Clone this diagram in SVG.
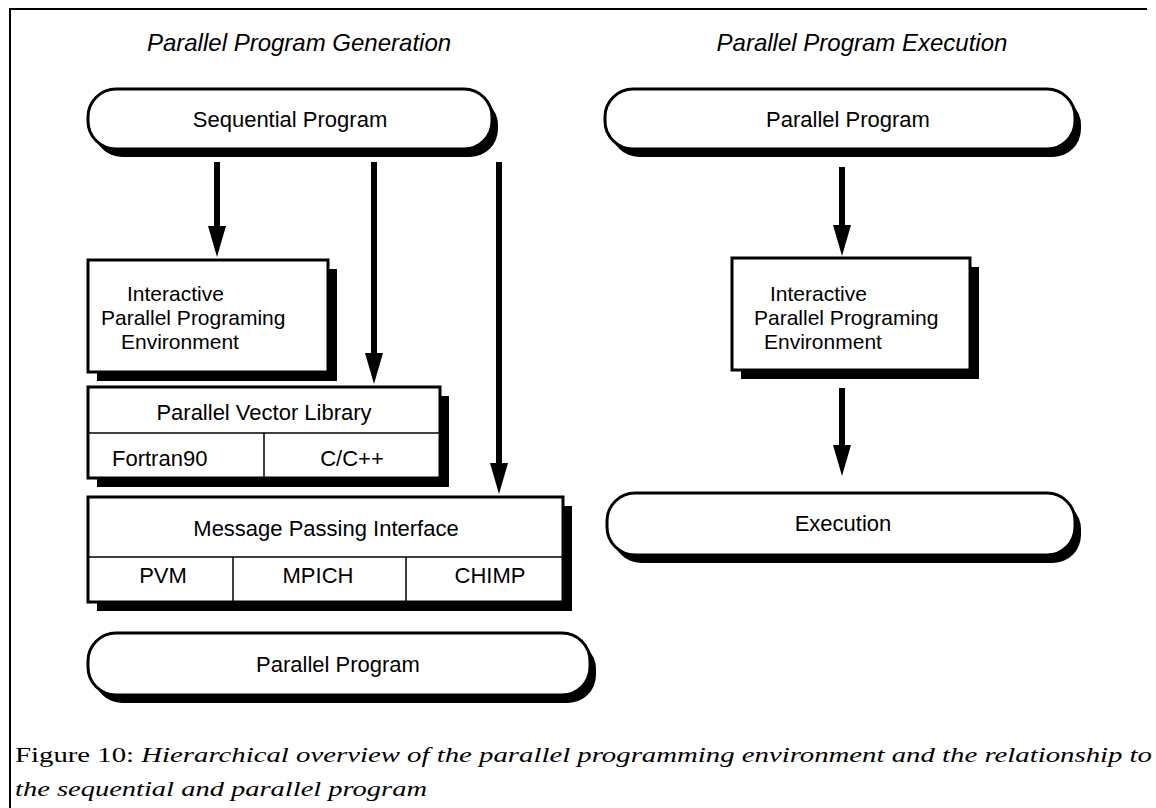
<svg xmlns="http://www.w3.org/2000/svg" width="1156" height="808" viewBox="0 0 1156 808">
  <style>
    .frame { stroke: #000; stroke-width: 2; fill: none; }
    .box { fill: #fff; stroke: #000; stroke-width: 3; }
    .shadow { fill: #000; }
    .cell { stroke: #000; stroke-width: 1.5; fill: none; }
    .lbl { font-family: "Liberation Sans", Arial, sans-serif; font-size: 22px; fill: #000; }
    .multi { font-family: "Liberation Sans", Arial, sans-serif; font-size: 21px; fill: #000; }
    .mid { text-anchor: middle; }
    .title { font-family: "Liberation Sans", Arial, sans-serif; font-size: 24px; font-style: italic; fill: #000; text-anchor: middle; }
    .cap { font-family: "Liberation Serif", "Times New Roman", serif; font-size: 22px; fill: #000; }
    .shaft { stroke: #000; stroke-width: 6; fill: none; }
  </style>
  <defs>
    <!-- solid triangular arrowhead drawn along +x, placed after the shaft end -->
    <marker id="head" markerUnits="userSpaceOnUse" markerWidth="31" markerHeight="18" viewBox="0 0 31 18" refX="1" refY="9" orient="auto">
      <path d="M0,0 L31,9 L0,18 Z" fill="#000"/>
    </marker>
  </defs>

  <rect width="1156" height="808" fill="#fff"/>

  <!-- page frame -->
  <path class="frame" d="M10,808 L10,9 L1147,9"/>

  <!-- column headings -->
  <text class="title" x="299" y="51">Parallel Program Generation</text>
  <text class="title" x="862" y="51">Parallel Program Execution</text>

  <!-- left column -->
  <g id="sequential-program">
    <rect class="shadow" x="94" y="97" width="404" height="60" rx="28" ry="28"/>
    <rect class="box" x="88" y="89" width="404" height="60" rx="28" ry="28"/>
    <text class="lbl mid" x="290" y="127">Sequential Program</text>
  </g>

  <g id="ippe-left">
    <rect class="shadow" x="97" y="269" width="240" height="112"/>
    <rect class="box" x="88" y="260" width="240" height="112"/>
    <text class="multi" x="127" y="301">Interactive</text>
    <text class="multi" x="101" y="325">Parallel Programing</text>
    <text class="multi" x="121" y="349">Environment</text>
  </g>

  <g id="parallel-vector-library">
    <rect class="shadow" x="97" y="396" width="352" height="91"/>
    <rect class="box" x="88" y="387" width="352" height="91"/>
    <line class="cell" x1="88" y1="433" x2="440" y2="433"/>
    <line class="cell" x1="264" y1="433" x2="264" y2="478"/>
    <text class="lbl mid" x="264" y="420">Parallel Vector Library</text>
    <text class="lbl" x="112" y="466">Fortran90</text>
    <text class="lbl mid" x="352" y="466">C/C++</text>
  </g>

  <g id="message-passing-interface">
    <rect class="shadow" x="97" y="506" width="475" height="105"/>
    <rect class="box" x="88" y="497" width="475" height="105"/>
    <line class="cell" x1="88" y1="557" x2="563" y2="557"/>
    <line class="cell" x1="233" y1="557" x2="233" y2="602"/>
    <line class="cell" x1="406" y1="557" x2="406" y2="602"/>
    <text class="lbl mid" x="326" y="536">Message Passing Interface</text>
    <text class="lbl mid" x="163" y="583">PVM</text>
    <text class="lbl mid" x="318" y="583">MPICH</text>
    <text class="lbl mid" x="490" y="583">CHIMP</text>
  </g>

  <g id="parallel-program-out">
    <rect class="shadow" x="94" y="641" width="502" height="62" rx="28" ry="28"/>
    <rect class="box" x="88" y="633" width="502" height="62" rx="28" ry="28"/>
    <text class="lbl mid" x="338" y="672">Parallel Program</text>
  </g>

  <!-- right column -->
  <g id="parallel-program-in">
    <rect class="shadow" x="611" y="97" width="470" height="60" rx="28" ry="28"/>
    <rect class="box" x="605" y="89" width="470" height="60" rx="28" ry="28"/>
    <text class="lbl mid" x="848" y="127">Parallel Program</text>
  </g>

  <g id="ippe-right">
    <rect class="shadow" x="741" y="267" width="238" height="112"/>
    <rect class="box" x="732" y="258" width="238" height="112"/>
    <text class="multi" x="770" y="301">Interactive</text>
    <text class="multi" x="754" y="325">Parallel Programing</text>
    <text class="multi" x="764" y="349">Environment</text>
  </g>

  <g id="execution">
    <rect class="shadow" x="613" y="501" width="468" height="62" rx="28" ry="28"/>
    <rect class="box" x="607" y="493" width="468" height="62" rx="28" ry="28"/>
    <text class="lbl mid" x="843" y="531">Execution</text>
  </g>

  <!-- connectors -->
  <g id="connectors">
    <line class="shaft" x1="217" y1="162" x2="217" y2="227" marker-end="url(#head)"/>
    <line class="shaft" x1="374" y1="162" x2="374" y2="354" marker-end="url(#head)"/>
    <line class="shaft" x1="499" y1="162" x2="499" y2="464" marker-end="url(#head)"/>
    <line class="shaft" x1="842" y1="167" x2="842" y2="226" marker-end="url(#head)"/>
    <line class="shaft" x1="842" y1="388" x2="842" y2="446" marker-end="url(#head)"/>
  </g>

  <!-- caption -->
  <text class="cap" x="15" y="762" textLength="1137" lengthAdjust="spacingAndGlyphs">Figure 10: <tspan font-style="italic">Hierarchical overview of the parallel programming environment and the relationship to</tspan></text>
  <text class="cap" x="15" y="796" font-style="italic" textLength="412" lengthAdjust="spacingAndGlyphs">the sequential and parallel program</text>
</svg>
